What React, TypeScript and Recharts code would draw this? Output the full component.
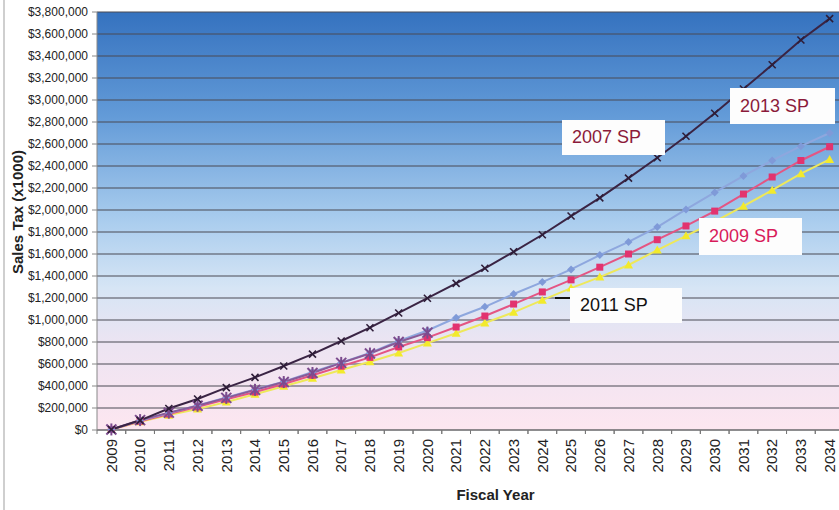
import React from 'react';
import { LineChart, Line, XAxis, YAxis, CartesianGrid } from 'recharts';

// fiscal years on the category axis
const years = [
  '2009', '2010', '2011', '2012', '2013', '2014', '2015', '2016', '2017', '2018', '2019', '2020', '2021',
  '2022', '2023', '2024', '2025', '2026', '2027', '2028', '2029', '2030', '2031', '2032', '2033', '2034',
];

// series values
const sp2007 = [
  5000, 88000, 195000, 282000, 385000, 478000, 582000, 690000, 809000, 930000, 1064000, 1198000, 1333000,
  1470000, 1620000, 1775000, 1945000, 2110000, 2290000, 2475000, 2670000, 2880000, 3100000, 3320000, 3545000, 3740000,
];
// 2013 SP only runs through 2020
const sp2013 = [5000, 90000, 158000, 220000, 292000, 365000, 436000, 518000, 610000, 695000, 800000, 885000];
const spBlue = [
  5000, 85000, 155000, 222000, 295000, 368000, 440000, 527000, 612000, 700000, 809000, 905000, 1020000,
  1120000, 1236000, 1345000, 1460000, 1590000, 1710000, 1845000, 2005000, 2160000, 2310000, 2450000, 2580000, 2700000,
];
const sp2009 = [
  5000, 80000, 145000, 210000, 280000, 345000, 418000, 498000, 580000, 660000, 755000, 840000, 936000,
  1036000, 1145000, 1255000, 1365000, 1480000, 1600000, 1730000, 1855000, 1990000, 2145000, 2300000, 2450000, 2575000,
];
const sp2011 = [
  5000, 75000, 135000, 190000, 255000, 325000, 398000, 470000, 545000, 620000, 700000, 790000, 880000,
  973000, 1070000, 1180000, 1290000, 1390000, 1500000, 1636000, 1765000, 1895000, 2035000, 2180000, 2330000, 2460000,
];

const yTicks = [
  0, 200000, 400000, 600000, 800000, 1000000, 1200000, 1400000, 1600000, 1800000, 2000000,
  2200000, 2400000, 2600000, 2800000, 3000000, 3200000, 3400000, 3600000, 3800000,
];

const data = years.map((year, i) => ({
  year,
  sp2007: sp2007[i],
  sp2013: i < sp2013.length ? sp2013[i] : null,
  spBlue: spBlue[i],
  sp2009: sp2009[i],
  sp2011: sp2011[i],
}));

const money = (v: number) => '$' + v.toLocaleString('en-US');

const font = 'Liberation Sans, Arial, sans-serif';

const XTick = (props: any) => {
  const { x, y, payload } = props;
  const off = payload.offset || 0;
  return (
    <g>
      <line x1={x - off} x2={x - off} y1={y - 8} y2={y - 4} stroke="#777" />
      <line x1={x + off} x2={x + off} y1={y - 8} y2={y - 4} stroke="#777" />
      <text
        x={x}
        y={y + 1}
        transform={`rotate(-90, ${x}, ${y + 1})`}
        textAnchor="end"
        dy="0.35em"
        fontSize={15}
        fill="#222"
        fontFamily={font}
      >
        {payload.value}
      </text>
    </g>
  );
};

const crossDot = (color: string) => (p: any) => {
  const { cx, cy, index } = p;
  if (cx == null || cy == null) return <g key={index} />;
  return (
    <g key={index} stroke={color} strokeWidth={1.6}>
      <line x1={cx - 3.5} y1={cy - 3.5} x2={cx + 3.5} y2={cy + 3.5} />
      <line x1={cx - 3.5} y1={cy + 3.5} x2={cx + 3.5} y2={cy - 3.5} />
    </g>
  );
};

const starDot = (color: string) => (p: any) => {
  const { cx, cy, index } = p;
  if (cx == null || cy == null) return <g key={index} />;
  return (
    <g key={index} stroke={color} strokeWidth={2}>
      <line x1={cx - 5} y1={cy - 5} x2={cx + 5} y2={cy + 5} />
      <line x1={cx - 5} y1={cy + 5} x2={cx + 5} y2={cy - 5} />
      <line x1={cx} y1={cy - 6} x2={cx} y2={cy + 6} />
    </g>
  );
};

const diamondDot = (color: string) => (p: any) => {
  const { cx, cy, index } = p;
  if (cx == null || cy == null) return <g key={index} />;
  return <path key={index} d={`M${cx},${cy - 4}L${cx + 4},${cy}L${cx},${cy + 4}L${cx - 4},${cy}Z`} fill={color} />;
};

const squareDot = (color: string) => (p: any) => {
  const { cx, cy, index } = p;
  if (cx == null || cy == null) return <g key={index} />;
  return <rect key={index} x={cx - 3.5} y={cy - 3.5} width={7} height={7} fill={color} />;
};

const triDot = (color: string) => (p: any) => {
  const { cx, cy, index } = p;
  if (cx == null || cy == null) return <g key={index} />;
  return <path key={index} d={`M${cx},${cy - 4.5}L${cx + 4.5},${cy + 3.5}L${cx - 4.5},${cy + 3.5}Z`} fill={color} />;
};

const boxStyle = (left: number, top: number, w: number, h: number, color: string): React.CSSProperties => ({
  position: 'absolute',
  left,
  top,
  width: w,
  height: h,
  background: '#fdfdfd',
  color,
  fontFamily: font,
  fontSize: 18,
  lineHeight: h + 'px',
  paddingLeft: 10,
  boxSizing: 'border-box',
});

export default function App() {
  return (
    <div style={{ position: 'absolute', left: 0, top: 0, width: 839, height: 510, overflow: 'hidden', background: '#fff' }}>
      <div style={{ position: 'absolute', left: 3, top: 0, width: 2, height: 510, background: '#cfcfcf' }} />
      <LineChart width={860} height={510} data={data} margin={{ top: 12, right: 16, left: 0, bottom: 0 }}>
        <defs>
          <linearGradient id="bgGrad" x1="0" y1="0" x2="0" y2="1">
            <stop offset="0%" stopColor="#3572bf" />
            <stop offset="25%" stopColor="#639bd8" />
            <stop offset="50%" stopColor="#aacdee" />
            <stop offset="66%" stopColor="#d6e5f5" />
            <stop offset="80%" stopColor="#ede4f2" />
            <stop offset="100%" stopColor="#fde6f0" />
          </linearGradient>
        </defs>
        <CartesianGrid vertical={false} stroke="#4a4a55" strokeWidth={1.2} fill="url(#bgGrad)" fillOpacity={1} />
        <XAxis
          dataKey="year"
          scale="band"
          height={80}
          interval={0}
          tick={<XTick />}
          tickLine={false}
          stroke="#777"
          label={{
            content: (lp: any) => {
              const vb = lp.viewBox;
              return (
                <text
                  x={vb.x + vb.width / 2 + 25}
                  y={vb.y + 70}
                  textAnchor="middle"
                  fontSize={15}
                  fontWeight="bold"
                  fill="#222"
                  fontFamily={font}
                >
                  Fiscal Year
                </text>
              );
            },
          }}
        />
        <YAxis
          width={97}
          domain={[0, 3800000]}
          ticks={yTicks}
          interval={0}
          tickFormatter={money}
          tick={{ fontSize: 12, fill: '#222', fontFamily: font }}
          tickSize={5}
          tickMargin={4}
          stroke="#888"
          label={{
            content: (lp: any) => {
              const vb = lp.viewBox;
              const cx = vb.x + 18;
              const cy = vb.y + vb.height / 2 - 9;
              return (
                <text
                  x={cx}
                  y={cy}
                  transform={`rotate(-90, ${cx}, ${cy})`}
                  textAnchor="middle"
                  dy="0.35em"
                  fontSize={15}
                  fontWeight="bold"
                  fill="#222"
                  fontFamily={font}
                >
                  Sales Tax (x1000)
                </text>
              );
            },
          }}
        />
        <Line dataKey="sp2011" stroke="#eee85a" strokeWidth={2} dot={triDot('#f2ea2c')} isAnimationActive={false} />
        <Line dataKey="sp2009" stroke="#e45583" strokeWidth={2} dot={squareDot('#e2336f')} isAnimationActive={false} />
        <Line dataKey="spBlue" stroke="#8ea7de" strokeWidth={2} dot={diamondDot('#7f9ad8')} isAnimationActive={false} />
        <Line dataKey="sp2013" stroke="#8a5a98" strokeWidth={2} dot={starDot('#7c4b8e')} isAnimationActive={false} />
        <Line dataKey="sp2007" stroke="#3a2444" strokeWidth={2} dot={crossDot('#2e1d38')} isAnimationActive={false} />
      </LineChart>
      <div style={boxStyle(562, 120, 103, 35, '#8b1a3a')}>2007 SP</div>
      <div style={boxStyle(730, 88, 105, 36, '#8b1a3a')}>2013 SP</div>
      <div style={boxStyle(699, 218, 103, 37, '#d81b5a')}>2009 SP</div>
      <div style={{ position: 'absolute', left: 555, top: 297, width: 16, height: 2, background: '#111' }} />
      <div style={boxStyle(570, 288, 112, 35, '#111')}>2011 SP</div>
    </div>
  );
}
